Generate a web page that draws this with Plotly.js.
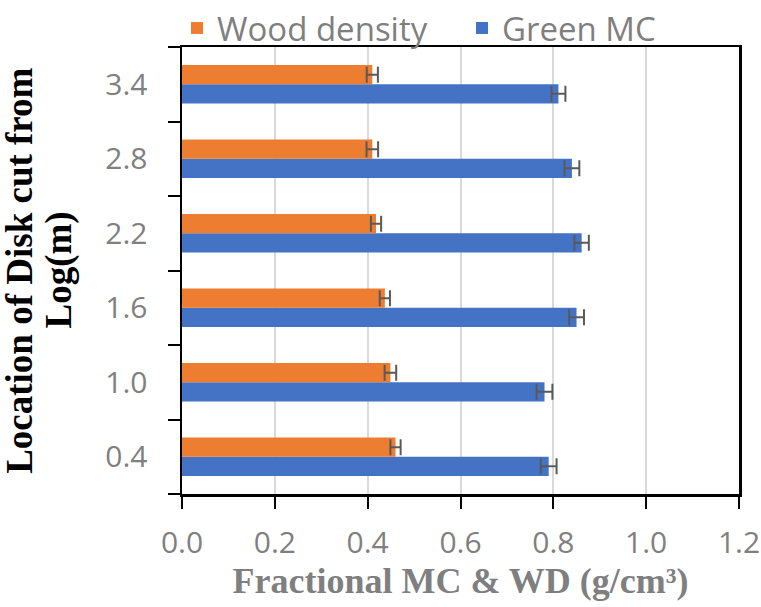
<!DOCTYPE html>
<html>
<head>
<meta charset="utf-8">
<script src="https://cdn.plot.ly/plotly-3.0.1.min.js"></script>
<style>html,body{margin:0;padding:0;background:#fff;}#chart{width:761px;height:607px;}</style>
</head>
<body>
<div id="chart"></div>
<script>
// Data
const locations = ["0.4", "1.0", "1.6", "2.2", "2.8", "3.4"];
const woodDensity = [0.460, 0.449, 0.437, 0.418, 0.410, 0.410];
const woodDensityErr = [0.011, 0.0125, 0.011, 0.011, 0.0125, 0.012];
const greenMC = [0.790, 0.781, 0.850, 0.861, 0.840, 0.811];
const greenMCErr = [0.017, 0.017, 0.016, 0.0155, 0.016, 0.015];
const xTickVals = [0, 0.2, 0.4, 0.6, 0.8, 1.0, 1.2];
const xTickText = ["0.0", "0.2", "0.4", "0.6", "0.8", "1.0", "1.2"];
const yTitleLines = ["Location of Disk cut from", "Log(m)"];
const xTitle = "Fractional MC &amp; WD (g/cm³)";

const errStyle = {type: 'data', visible: true, color: '#595959', thickness: 2, width: 8};

const traces = [
  {
    type: 'bar', orientation: 'h', name: 'Green MC',
    y: locations, x: greenMC,
    marker: {color: '#4472C4'},
    error_x: Object.assign({array: greenMCErr}, errStyle)
  },
  {
    type: 'bar', orientation: 'h', name: 'Wood density',
    y: locations, x: woodDensity,
    marker: {color: '#ED7D31'},
    error_x: Object.assign({array: woodDensityErr}, errStyle)
  }
];

const serif = 'Liberation Serif, Times New Roman, serif';
const sans = 'Open Sans, sans-serif';

const layout = {
  width: 761, height: 607,
  margin: {l: 182, r: 22, t: 47, b: 113, pad: 0, autoexpand: false},
  paper_bgcolor: '#ffffff', plot_bgcolor: '#ffffff',
  barmode: 'group', bargap: 0.485, bargroupgap: 0,
  showlegend: true,
  legend: {
    orientation: 'h', traceorder: 'reversed',
    x: -0.009, xanchor: 'left', y: 1.1051, yanchor: 'top',
    entrywidth: 240, entrywidthmode: 'pixels',
    font: {family: sans, size: 33, color: '#7f7f7f'},
    bgcolor: 'rgba(0,0,0,0)'
  },
  xaxis: {
    range: [0, 1.2], tickmode: 'array', tickvals: xTickVals, ticktext: xTickText,
    showgrid: true, gridcolor: '#d9d9d9', gridwidth: 2,
    zeroline: false,
    showline: true, linecolor: '#000000', linewidth: 2.5, mirror: true,
    ticks: 'outside', ticklen: 12, tickwidth: 2, tickcolor: '#000000',
    ticklabelstandoff: 8,
    tickfont: {family: sans, size: 30, color: '#808080'},
    title: {
      text: '<b>' + xTitle + '</b>',
      font: {family: serif, size: 36, color: '#7f7f7f'},
      standoff: 6
    },
    fixedrange: true
  },
  yaxis: {
    type: 'category', categoryorder: 'array', categoryarray: locations,
    showgrid: false, zeroline: false,
    showline: true, linecolor: '#000000', linewidth: 2.5, mirror: true,
    ticks: 'outside', tickson: 'boundaries', ticklen: 12, tickwidth: 2, tickcolor: '#000000',
    ticklabelstandoff: 26,
    tickfont: {family: sans, size: 30, color: '#808080'},
    fixedrange: true
  },
  annotations: [
    {
      xref: 'paper', yref: 'paper', x: -0.292, y: 0.5, xanchor: 'center', yanchor: 'middle',
      text: '<b>' + yTitleLines[0] + '</b>', textangle: -90, showarrow: false,
      font: {family: serif, size: 37, color: '#000000'}
    },
    {
      xref: 'paper', yref: 'paper', x: -0.2226, y: 0.5, xanchor: 'center', yanchor: 'middle',
      text: '<b>' + yTitleLines[1] + '</b>', textangle: -90, showarrow: false,
      font: {family: serif, size: 37, color: '#000000'}
    }
  ]
};

Plotly.newPlot('chart', traces, layout, {displayModeBar: false, staticPlot: true});
</script>
</body>
</html>
